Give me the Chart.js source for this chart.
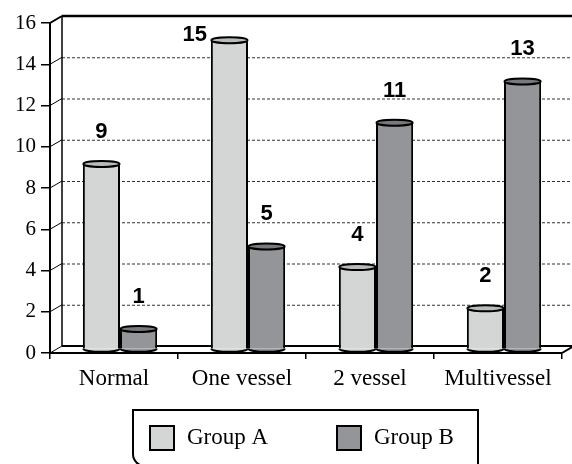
<!DOCTYPE html>
<html><head><meta charset="utf-8">
<script src="https://cdn.jsdelivr.net/npm/chart.js@4.4.1/dist/chart.umd.min.js"></script>
<style>html,body{margin:0;padding:0;background:#fff;}#wrap{width:572px;height:464px;}</style>
</head><body><div id="wrap"><canvas id="c" width="572" height="464"></canvas></div>
<script>
const categories = ['Normal', 'One vessel', '2 vessel', 'Multivessel'];
const groupA = [9, 15, 4, 2];
const groupB = [1, 5, 11, 13];
const seriesNames = ['Group A', 'Group B'];
const yTickValues = [0, 2, 4, 6, 8, 10, 12, 14, 16];

const colorA = '#d4d5d5';
const colorB = '#939598';
const capA = '#b9baba';
const capB = '#77797c';
const DX = 12, DY = -7;          // depth of the back wall
const BX = DX / 2, BY = DY / 2;  // bars sit at mid depth
const SERIF = "'Liberation Serif', 'Times New Roman', serif";
const SANS = "'Liberation Sans', Arial, sans-serif";

const threeD = {
  id: 'threeD',
  beforeDraw(chart) {
    const ctx = chart.ctx, ca = chart.chartArea, y = chart.scales.y;
    const W = chart.width;
    ctx.save();
    yTickValues.forEach(v => {
      const py = y.getPixelForValue(v);
      if (v !== 0 && v !== 16) {
        ctx.setLineDash([3, 2]);
        ctx.lineWidth = 1;
        ctx.strokeStyle = '#333';
        ctx.beginPath();
        ctx.moveTo(ca.left + DX, py + DY + 0.5);
        ctx.lineTo(W, py + DY + 0.5);
        ctx.stroke();
      }
      ctx.setLineDash([]);
      ctx.strokeStyle = '#000';
      ctx.lineWidth = 1;
      ctx.beginPath();
      ctx.moveTo(ca.left, py);
      ctx.lineTo(ca.left + DX, py + DY);
      ctx.stroke();
    });
    const yTop = y.getPixelForValue(16), yBot = y.getPixelForValue(0);
    ctx.lineWidth = 2.5;
    ctx.beginPath();
    ctx.moveTo(ca.left + DX, yTop + DY);
    ctx.lineTo(W, yTop + DY);
    ctx.stroke();
    ctx.lineWidth = 2;
    ctx.beginPath();
    ctx.moveTo(ca.left, yTop);
    ctx.lineTo(ca.left + DX, yTop + DY);
    ctx.stroke();
    ctx.lineWidth = 1.5;
    ctx.beginPath();
    ctx.moveTo(ca.left + DX, yTop + DY);
    ctx.lineTo(ca.left + DX, yBot + DY);
    ctx.stroke();
    ctx.lineWidth = 2;
    ctx.beginPath();
    ctx.moveTo(ca.left + DX, yBot + DY);
    ctx.lineTo(W, yBot + DY);
    ctx.stroke();
    ctx.beginPath();
    ctx.moveTo(ca.right, yBot);
    ctx.lineTo(ca.right + DX, yBot + DY);
    ctx.stroke();
    ctx.restore();
  },
  beforeDatasetsDraw(chart) {
    chart.ctx.save();
    chart.ctx.translate(BX, BY);
  },
  afterDatasetsDraw(chart) {
    const ctx = chart.ctx;
    const caps = [capA, capB];
    chart.data.datasets.forEach((ds, di) => {
      const meta = chart.getDatasetMeta(di);
      meta.data.forEach(bar => {
        const rx = bar.width / 2 - 0.5, ry = 3;
        ctx.beginPath();
        ctx.ellipse(bar.x, bar.base, rx, ry, 0, 0, Math.PI);
        ctx.fillStyle = ds.backgroundColor;
        ctx.fill();
        ctx.lineWidth = 2;
        ctx.strokeStyle = '#000';
        ctx.stroke();
        ctx.beginPath();
        ctx.ellipse(bar.x, bar.y, rx, ry, 0, 0, Math.PI * 2);
        ctx.fillStyle = caps[di];
        ctx.fill();
        ctx.stroke();
      });
    });
    ctx.restore();
    ctx.save();
    ctx.font = 'bold 22px ' + SANS;
    ctx.fillStyle = '#000';
    ctx.textBaseline = 'middle';
    const ca = chart.chartArea;
    chart.data.datasets.forEach((ds, di) => {
      const meta = chart.getDatasetMeta(di);
      meta.data.forEach((bar, i) => {
        const txt = String(ds.data[i]);
        let lx = bar.x + BX, ly = bar.y + BY - 32;
        if (ly < ca.top + 8) {
          ctx.textAlign = 'right';
          lx = bar.x + BX - bar.width / 2 - 4;
          ly = bar.y + BY - 5;
        } else {
          ctx.textAlign = 'center';
        }
        ctx.fillText(txt, lx, ly);
      });
    });
    ctx.restore();
  },
  afterDraw(chart) {
    const ctx = chart.ctx;
    ctx.save();
    const L = 133, T = 410, R = 478, B = 466, r = 12;
    ctx.strokeStyle = '#000';
    ctx.lineWidth = 2;
    ctx.beginPath();
    ctx.moveTo(L, B - r);
    ctx.lineTo(L, T);
    ctx.lineTo(R, T);
    ctx.lineTo(R, B);
    ctx.lineTo(L + r, B);
    ctx.arcTo(L, B, L, B - r, r);
    ctx.stroke();
    const items = [150, 337];
    ctx.font = '23px ' + SERIF;
    ctx.textBaseline = 'middle';
    ctx.textAlign = 'left';
    chart.data.datasets.forEach((ds, di) => {
      const bx = items[di], by = 426;
      ctx.fillStyle = ds.backgroundColor;
      ctx.fillRect(bx, by, 24, 24);
      ctx.strokeRect(bx, by, 24, 24);
      ctx.fillStyle = '#000';
      ctx.fillText(ds.label, bx + 37, by + 12);
    });
    ctx.restore();
  }
};

new Chart(document.getElementById('c'), {
  type: 'bar',
  data: {
    labels: categories,
    datasets: [
      { label: seriesNames[0], data: groupA, backgroundColor: colorA, borderColor: '#000', borderWidth: 2, borderSkipped: 'bottom' },
      { label: seriesNames[1], data: groupB, backgroundColor: colorB, borderColor: '#000', borderWidth: 2, borderSkipped: 'bottom' }
    ]
  },
  options: {
    responsive: false,
    devicePixelRatio: 1,
    animation: false,
    datasets: { bar: { categoryPercentage: 0.58, barPercentage: 1.0 } },
    layout: { padding: { left: 0, right: 10, top: 23, bottom: 66 } },
    plugins: { legend: { display: false }, tooltip: { enabled: false } },
    scales: {
      x: {
        offset: true,
        afterFit(s) { s.height = 45; },
        grid: { offset: true, drawOnChartArea: false, drawTicks: true, tickLength: 6, color: '#000', lineWidth: 1.5 },
        border: { display: true, color: '#000', width: 2 },
        ticks: { color: '#000', font: { family: SERIF, size: 23 }, padding: 6, maxRotation: 0, autoSkip: false }
      },
      y: {
        min: 0, max: 16,
        afterFit(s) { s.width = 50; },
        afterBuildTicks(s) { s.ticks = yTickValues.map(v => ({ value: v })); },
        grid: { drawOnChartArea: false, drawTicks: true, tickLength: 9, color: '#000', lineWidth: 1.5 },
        border: { display: true, color: '#000', width: 2 },
        ticks: { color: '#000', font: { family: SERIF, size: 21 }, padding: 5 }
      }
    }
  },
  plugins: [threeD]
});
</script>
</body></html>
